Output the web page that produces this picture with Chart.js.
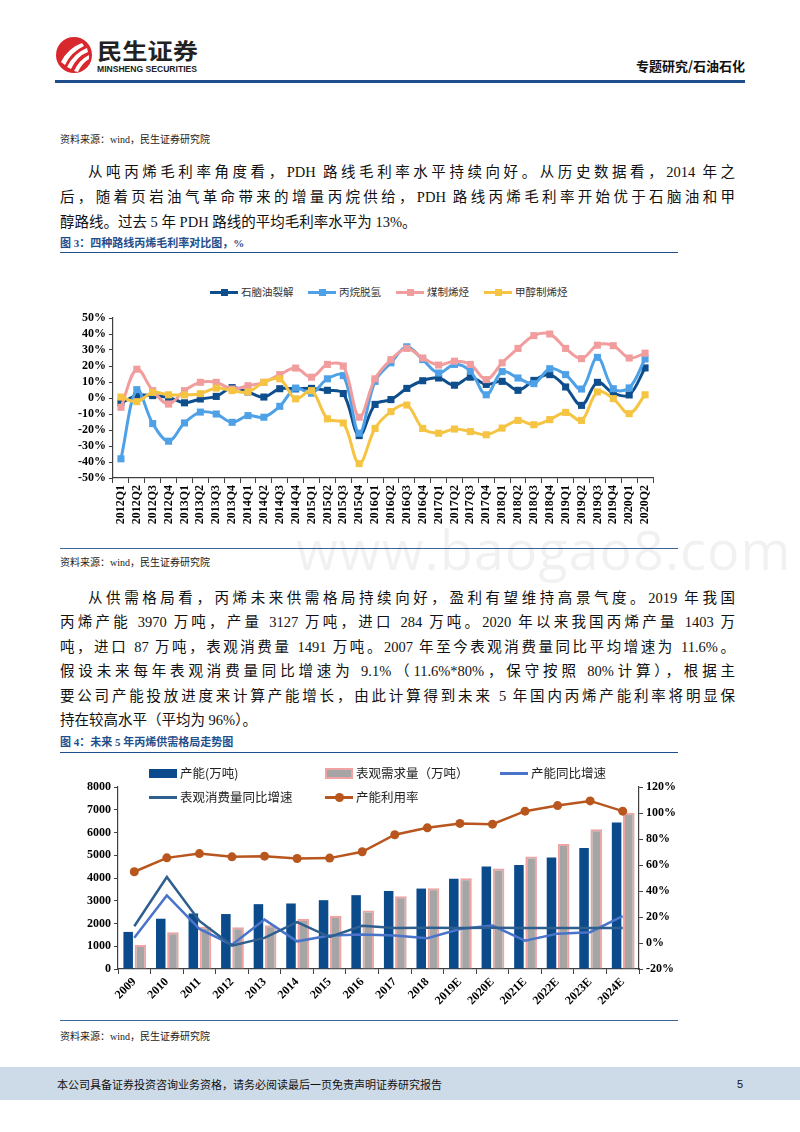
<!DOCTYPE html>
<html><head><meta charset="utf-8">
<script src="https://cdn.jsdelivr.net/npm/chart.js@4.4.1/dist/chart.umd.min.js"></script>
<style>
html,body{margin:0;padding:0;background:#fff;}
#page{position:relative;width:800px;height:1132px;overflow:hidden;font-family:"Liberation Serif","Noto Sans CJK SC",serif;color:#111;}
.src{position:absolute;left:60px;font-size:10px;line-height:14px;color:#222;}
.p{position:absolute;left:60px;width:675px;font-size:14.5px;line-height:20px;height:20px;text-align:justify;text-align-last:justify;}
.ind{left:88px;width:647px;}
.last{text-align:left;text-align-last:left;}
.ttl{position:absolute;left:60px;font-size:11px;line-height:14px;font-weight:bold;color:#1f4e8c;font-family:"Liberation Serif","Noto Sans CJK SC";}
.rule{position:absolute;left:60px;width:618px;height:1px;background:#1f4e8c;}
.lg{position:absolute;font-family:"Noto Sans CJK SC";color:#333;white-space:nowrap;}
.lg span{position:absolute;}
canvas{position:absolute;}
</style></head>
<body><div id="page">

<!-- header -->
<svg style="position:absolute;left:52px;top:34px" width="160" height="46">
  <circle cx="22" cy="21" r="18" fill="#d8282d"/>
  <path d="M9 28 Q16 14 30 9 L32 12 Q19 18 13 31 Z" fill="#fff"/>
  <path d="M15 33 Q22 19 35 14 L36 18 Q25 22 19 35 Z" fill="#fff"/>
  <path d="M22 37 Q27 26 37 21 L37 25 Q30 29 26 38 Z" fill="#fff"/>
  <text x="45" y="25" font-family="Noto Sans CJK SC" font-weight="bold" font-size="22" fill="#222" textLength="101" lengthAdjust="spacingAndGlyphs">民生证券</text>
  <text x="45" y="38" font-family="Liberation Sans" font-weight="bold" font-size="9.5" fill="#222" textLength="100" lengthAdjust="spacingAndGlyphs">MINSHENG SECURITIES</text>
</svg>
<div style="position:absolute;left:600px;width:145px;top:57px;text-align:right;font-family:'Noto Sans CJK SC';font-weight:bold;font-size:13px;line-height:18px;color:#111;">专题研究/石油石化</div>
<div style="position:absolute;left:55px;width:690px;top:80px;height:2.5px;background:#1f4e8c;"></div>

<div class="src" style="top:133px">资料来源：wind，民生证券研究院</div>

<div class="p ind" style="top:162px">从吨丙烯毛利率角度看，PDH 路线毛利率水平持续向好。从历史数据看，2014 年之</div>
<div class="p" style="top:187px">后，随着页岩油气革命带来的增量丙烷供给，PDH 路线丙烯毛利率开始优于石脑油和甲</div>
<div class="p last" style="top:212px">醇路线。过去 5 年 PDH 路线的平均毛利率水平为 13%。</div>

<div class="ttl" style="top:236px">图 3：四种路线丙烯毛利率对比图，%</div>
<div class="rule" style="top:252px"></div>

<!-- chart 1 legend -->
<div id="lg1"></div>

<canvas id="c1" width="620" height="248" style="left:60px;top:300px"></canvas>
<div class="rule" style="top:548px;background:#3d679a"></div>

<div style="position:absolute;left:296px;top:512px;font-family:'Open Sans',sans-serif;font-size:54px;color:rgba(0,0,0,0.055);letter-spacing:1px;">www.baogao8.com</div>

<div class="src" style="top:556px">资料来源：wind，民生证券研究院</div>

<div class="p ind" style="top:588px">从供需格局看，丙烯未来供需格局持续向好，盈利有望维持高景气度。2019 年我国</div>
<div class="p" style="top:612px">丙烯产能 3970 万吨，产量 3127 万吨，进口 284 万吨。2020 年以来我国丙烯产量 1403 万</div>
<div class="p" style="top:637px">吨，进口 87 万吨，表观消费量 1491 万吨。2007 年至今表观消费量同比平均增速为 11.6%。</div>
<div class="p" style="top:661px">假设未来每年表观消费量同比增速为 9.1%（11.6%*80%，保守按照 80%计算），根据主</div>
<div class="p" style="top:686px">要公司产能投放进度来计算产能增长，由此计算得到未来 5 年国内丙烯产能利率将明显保</div>
<div class="p last" style="top:710px">持在较高水平（平均为 96%）。</div>

<div class="ttl" style="top:735px">图 4：未来 5 年丙烯供需格局走势图</div>
<div class="rule" style="top:752px"></div>

<canvas id="c2" width="630" height="255" style="left:60px;top:760px"></canvas>
<div id="lg2"></div>

<div class="rule" style="top:1020px;background:#3d679a"></div>
<div class="src" style="top:1030px">资料来源：wind，民生证券研究院</div>

<div style="position:absolute;left:0;top:1067px;width:800px;height:33px;background:#cddbe9;"></div>
<div style="position:absolute;left:57px;top:1076px;font-family:'Noto Sans CJK SC';font-size:11px;line-height:16px;color:#111;">本公司具备证券投资咨询业务资格，请务必阅读最后一页免责声明证券研究报告</div>
<div style="position:absolute;left:737px;top:1076px;font-family:'Liberation Sans';font-size:11px;line-height:16px;color:#111;">5</div>

</div>
<script>
// ---------- Chart 1 data ----------
const quarters = ['2012Q1','2012Q2','2012Q3','2012Q4','2013Q1','2013Q2','2013Q3','2013Q4',
  '2014Q1','2014Q2','2014Q3','2014Q4','2015Q1','2015Q2','2015Q3','2015Q4',
  '2016Q1','2016Q2','2016Q3','2016Q4','2017Q1','2017Q2','2017Q3','2017Q4',
  '2018Q1','2018Q2','2018Q3','2018Q4','2019Q1','2019Q2','2019Q3','2019Q4','2020Q1','2020Q2'];
const naphthaCracking = [-3,1.5,1.5,0.4,-3,-0.6,1,6.5,3.8,0.6,5.8,5.7,6,4.8,2.8,-23.5,
  -4,-1,6,10.8,12.5,8,13,8.5,10.4,4.8,11,14.6,6.9,-4.6,9.8,3,1.9,18.8];
const propaneDehydro = [-38,5.2,-16,-27,-15.6,-8.8,-10,-15.2,-11,-12,-5.2,6.2,3,12,14,-22,
  10.4,22,32,24,15.6,21,16.7,2,16.5,12.5,9,18.3,14.6,5.6,25.4,5.8,6.3,24.4];
const coalToOlefin = [-5.8,18,4.6,-3.8,4.6,9.8,9.8,5.6,7.7,9.8,14.6,18.7,13,21,20,-12,
  12,24,31,25,20.6,23,21,11.5,22,31,39,40,31,24.6,33,32.7,25,28];
const methanolToOlefin = [0.6,-2.3,3.5,2,1.9,2.7,6.2,4.6,3.8,9.8,12,-0.5,4.6,-13,-15.6,-41,
  -19,-8.5,-4.4,-19,-22,-19.4,-21,-23,-18.8,-14,-16.7,-13.5,-9,-14,3.8,-0.4,-9.8,2];
const series1Names = ['石脑油裂解','丙烷脱氢','煤制烯烃','甲醇制烯烃'];
const series1Colors = ['#0e4e8c','#4ea1e6','#f19d9d','#f6c443'];

// ---------- Chart 2 data ----------
const years = ['2009','2010','2011','2012','2013','2014','2015','2016','2017','2018','2019E','2020E','2021E','2022E','2023E','2024E'];
const capacity = [1630,2210,2440,2415,2850,2880,3025,3245,3430,3535,3970,4510,4567,4900,5320,6445];
const apparentDemand = [1060,1615,1860,1830,1920,2200,2330,2575,3200,3550,3985,4420,4945,5500,6140,6865];
const capacityYoY = [4,36.6,10.8,-1.3,18,1.3,5.7,6.5,5.7,3.6,10.8,13.4,1.8,7.2,8.3,20.6];
const consumptionYoY = [12.9,50.8,17,-2,3.9,16,4.6,13.2,11.6,11.8,11.6,11.8,11.6,11.6,11.6,11.6];
const utilization = [54.8,65.5,68.8,66.3,66.8,65,65.3,70.2,83.3,88.6,92,91.4,101.4,105.7,109.3,101.4];
const series2Names = ['产能(万吨)','表观需求量（万吨）','产能同比增速','表观消费量同比增速','产能利用率'];

const tickFont = {family:"'Liberation Serif', serif", size:12, weight:'bold'};
const axisColor = '#404040';

// legend 1
(function(){
  const lg = document.getElementById('lg1');
  const xs = [210,308,396,484];
  series1Names.forEach((n,i)=>{
    const c = series1Colors[i];
    lg.insertAdjacentHTML('beforeend',
      `<div class="lg" style="left:${xs[i]}px;top:285px;width:120px;height:14px;font-size:10.5px;line-height:14px;">
        <span style="left:0;top:5.5px;width:28px;height:3px;background:${c}"></span>
        <span style="left:10.5px;top:3.5px;width:7px;height:7px;background:${c}"></span>
        <span style="left:31px;top:0">${n}</span></div>`);
  });
})();

// legend 2
(function(){
  const lg = document.getElementById('lg2');
  const items = [
    {x:149,y:773,kind:'bar',fill:'#0b4a8b',border:'none',h:9},
    {x:325,y:773,kind:'bar',fill:'#a5a5a5',border:'2px solid #f0a3a3',h:11},
    {x:500,y:773,kind:'line',color:'#4a74c9'},
    {x:149,y:797,kind:'line',color:'#2f5f8f'},
    {x:325,y:797,kind:'dot',color:'#b8561e'}
  ];
  items.forEach((it,i)=>{
    let mark='';
    if(it.kind==='bar'){
      mark=`<span style="left:0;top:${9-it.h/2}px;width:28px;height:${it.h}px;background:${it.fill};border:${it.border};box-sizing:border-box"></span>`;
    } else {
      mark=`<span style="left:0;top:7.5px;width:28px;height:3px;background:${it.color}"></span>`;
      if(it.kind==='dot') mark+=`<span style="left:9.5px;top:4.5px;width:9px;height:9px;border-radius:50%;background:${it.color}"></span>`;
    }
    lg.insertAdjacentHTML('beforeend',
      `<div class="lg" style="left:${it.x}px;top:${it.y-9}px;width:170px;height:18px;font-size:12.5px;line-height:18px;color:#222">
        ${mark}<span style="left:31px;top:0">${series2Names[i]}</span></div>`);
  });
})();

// chart 1
const ds1 = [naphthaCracking, propaneDehydro, coalToOlefin, methanolToOlefin].map((d,i)=>({
  label: series1Names[i], data: d,
  borderColor: series1Colors[i], backgroundColor: series1Colors[i],
  pointBackgroundColor: series1Colors[i], order: 4-i
}));
new Chart(document.getElementById('c1'), {
  type:'line',
  data:{labels:quarters, datasets:ds1},
  options:{
    responsive:false, animation:false,
    layout:{padding:{top:18,right:27,left:0,bottom:0}},
    elements:{line:{borderWidth:3,tension:0.35,capBezierPoints:true},
              point:{pointStyle:'rect',radius:5,borderWidth:0}},
    plugins:{legend:{display:false},tooltip:{enabled:false}},
    scales:{
      x:{offset:true,
         grid:{offset:true,drawOnChartArea:false,drawTicks:true,tickLength:5,color:axisColor},
         border:{color:axisColor,width:1.2},
         ticks:{font:tickFont,color:'#000',minRotation:90,maxRotation:90,autoSkip:false,padding:2},
         afterFit(s){s.height=70;}},
      y:{min:-50,max:50,
         ticks:{stepSize:10,autoSkip:false,callback:v=>v+'%',font:tickFont,color:'#000',padding:3},
         grid:{drawOnChartArea:false,tickLength:4,color:axisColor},
         border:{color:axisColor,width:1.2},
         afterFit(s){s.width=53;}}
    }
  }
});

// chart 2
new Chart(document.getElementById('c2'), {
  data:{labels:years, datasets:[
    {type:'bar',label:series2Names[0],data:capacity,yAxisID:'y',backgroundColor:'#0b4a8b',
     barPercentage:0.78,categoryPercentage:0.75,order:5},
    {type:'bar',label:series2Names[1],data:apparentDemand,yAxisID:'y',backgroundColor:'#a5a5a5',
     borderColor:'#f0a3a3',borderWidth:2,barPercentage:0.95,categoryPercentage:0.75,order:5},
    {type:'line',label:series2Names[2],data:capacityYoY,yAxisID:'y1',borderColor:'#4a74c9',
     borderWidth:2.5,pointRadius:0,tension:0,order:2},
    {type:'line',label:series2Names[3],data:consumptionYoY,yAxisID:'y1',borderColor:'#2f5f8f',
     borderWidth:2.5,pointRadius:0,tension:0,order:1},
    {type:'line',label:series2Names[4],data:utilization,yAxisID:'y1',borderColor:'#b8561e',
     backgroundColor:'#b8561e',pointBackgroundColor:'#b8561e',borderWidth:2.5,pointRadius:4.5,
     pointBorderWidth:0,pointStyle:'circle',tension:0,order:0}
  ]},
  options:{
    responsive:false, animation:false,
    layout:{padding:{top:27,right:0,left:0,bottom:0}},
    plugins:{legend:{display:false},tooltip:{enabled:false}},
    scales:{
      x:{offset:true,
         grid:{offset:true,drawOnChartArea:false,tickLength:5,color:axisColor},
         border:{color:axisColor,width:1.2},
         ticks:{font:tickFont,color:'#000',minRotation:45,maxRotation:45,autoSkip:false,padding:1},
         afterFit(s){s.height=46;}},
      y:{position:'left',min:0,max:8000,
         ticks:{stepSize:1000,autoSkip:false,callback:v=>String(v),font:tickFont,color:'#000',padding:3},
         grid:{drawOnChartArea:false,tickLength:4,color:axisColor},
         border:{color:axisColor,width:1.2},
         afterFit(s){s.width=58;}},
      y1:{position:'right',min:-20,max:120,
         ticks:{stepSize:20,autoSkip:false,callback:v=>v+'%',font:tickFont,color:'#000',padding:3},
         grid:{drawOnChartArea:false,tickLength:4,color:axisColor},
         border:{color:axisColor,width:1.2},
         afterFit(s){s.width=51;}}
    }
  }
});
</script>
</body></html>
